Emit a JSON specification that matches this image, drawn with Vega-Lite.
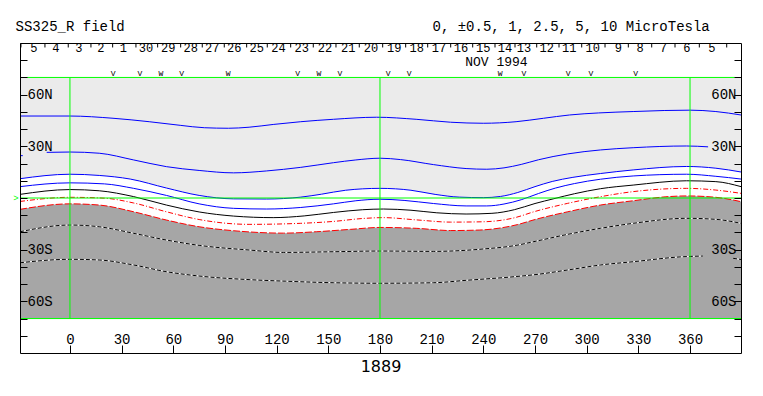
{
  "$schema": "https://vega.github.io/schema/vega-lite/v6.json",
  "width": 721,
  "height": 310,
  "autosize": {"type": "none"},
  "padding": {"left": 20, "top": 43, "right": 22, "bottom": 43},
  "background": "white",
  "config": {
    "view": {"stroke": null},
    "font": "Liberation Mono",
    "text": {"font": "Liberation Mono", "fontSize": 14, "color": "black"}
  },
  "datasets": {
    "curves": [
      {"c":"c1","s":"a","lon":-29,"lat":47.6},{"c":"c1","s":"a","lon":0,"lat":47.6},{"c":"c1","s":"a","lon":25,"lat":46.3},{"c":"c1","s":"a","lon":46,"lat":44.3},{"c":"c1","s":"a","lon":64,"lat":42.2},{"c":"c1","s":"a","lon":78,"lat":40.8},{"c":"c1","s":"a","lon":92,"lat":40.5},{"c":"c1","s":"a","lon":104,"lat":41.1},{"c":"c1","s":"a","lon":118,"lat":42.7},{"c":"c1","s":"a","lon":134,"lat":44.3},{"c":"c1","s":"a","lon":153,"lat":45.7},{"c":"c1","s":"a","lon":178,"lat":46.9},{"c":"c1","s":"a","lon":201,"lat":45.7},{"c":"c1","s":"a","lon":221,"lat":44.0},{"c":"c1","s":"a","lon":240,"lat":43.4},{"c":"c1","s":"a","lon":259,"lat":44.3},{"c":"c1","s":"a","lon":275,"lat":46.3},{"c":"c1","s":"a","lon":290,"lat":48.2},{"c":"c1","s":"a","lon":307,"lat":49.4},{"c":"c1","s":"a","lon":327,"lat":50.2},{"c":"c1","s":"a","lon":345,"lat":50.8},{"c":"c1","s":"a","lon":360,"lat":51.0},{"c":"c1","s":"a","lon":375,"lat":50.2},{"c":"c1","s":"a","lon":389.6,"lat":48.2},
      {"c":"c2","s":"a","lon":-29,"lat":24.6},{"c":"c2","s":"a","lon":-27.4,"lat":24.6},
      {"c":"c2","s":"b","lon":-13.5,"lat":26.5},{"c":"c2","s":"b","lon":0,"lat":26.7},{"c":"c2","s":"b","lon":17,"lat":26.0},{"c":"c2","s":"b","lon":37,"lat":22.1},{"c":"c2","s":"b","lon":56,"lat":18.2},{"c":"c2","s":"b","lon":75,"lat":16.0},{"c":"c2","s":"b","lon":95,"lat":14.6},{"c":"c2","s":"b","lon":114,"lat":15.7},{"c":"c2","s":"b","lon":134,"lat":17.8},{"c":"c2","s":"b","lon":153,"lat":20.5},{"c":"c2","s":"b","lon":166,"lat":22.1},{"c":"c2","s":"b","lon":180,"lat":23.1},{"c":"c2","s":"b","lon":192,"lat":22.3},{"c":"c2","s":"b","lon":211,"lat":19.4},{"c":"c2","s":"b","lon":230,"lat":17.1},{"c":"c2","s":"b","lon":242,"lat":16.7},{"c":"c2","s":"b","lon":252,"lat":17.5},{"c":"c2","s":"b","lon":262,"lat":19.5},{"c":"c2","s":"b","lon":272,"lat":22.2},{"c":"c2","s":"b","lon":289,"lat":25.6},{"c":"c2","s":"b","lon":308,"lat":27.9},{"c":"c2","s":"b","lon":327,"lat":29.2},{"c":"c2","s":"b","lon":358,"lat":30.2},{"c":"c2","s":"b","lon":370.5,"lat":29.7},
      {"c":"c3","s":"a","lon":-29,"lat":11.2},{"c":"c3","s":"a","lon":0,"lat":13.8},{"c":"c3","s":"a","lon":17,"lat":13.1},{"c":"c3","s":"a","lon":35,"lat":11.0},{"c":"c3","s":"a","lon":56,"lat":5.8},{"c":"c3","s":"a","lon":75,"lat":1.5},{"c":"c3","s":"a","lon":95,"lat":-0.5},{"c":"c3","s":"a","lon":114,"lat":-0.6},{"c":"c3","s":"a","lon":134,"lat":0.5},{"c":"c3","s":"a","lon":146,"lat":2.2},{"c":"c3","s":"a","lon":160,"lat":4.5},{"c":"c3","s":"a","lon":180,"lat":5.6},{"c":"c3","s":"a","lon":198,"lat":4.5},{"c":"c3","s":"a","lon":212,"lat":2.1},{"c":"c3","s":"a","lon":226,"lat":0.5},{"c":"c3","s":"a","lon":240,"lat":0.2},{"c":"c3","s":"a","lon":250,"lat":0.9},{"c":"c3","s":"a","lon":260,"lat":3.2},{"c":"c3","s":"a","lon":270,"lat":6.6},{"c":"c3","s":"a","lon":280,"lat":9.6},{"c":"c3","s":"a","lon":292,"lat":12.0},{"c":"c3","s":"a","lon":308,"lat":14.2},{"c":"c3","s":"a","lon":327,"lat":16.3},{"c":"c3","s":"a","lon":358,"lat":18.3},{"c":"c3","s":"a","lon":375,"lat":17.3},{"c":"c3","s":"a","lon":389.6,"lat":15.1},
      {"c":"c4","s":"a","lon":-29,"lat":6.6},{"c":"c4","s":"a","lon":0,"lat":8.8},{"c":"c4","s":"a","lon":20,"lat":8.2},{"c":"c4","s":"a","lon":37,"lat":5.6},{"c":"c4","s":"a","lon":56,"lat":1.5},{"c":"c4","s":"a","lon":75,"lat":-3.4},{"c":"c4","s":"a","lon":95,"lat":-6.0},{"c":"c4","s":"a","lon":114,"lat":-6.4},{"c":"c4","s":"a","lon":134,"lat":-5.5},{"c":"c4","s":"a","lon":153,"lat":-3.4},{"c":"c4","s":"a","lon":166,"lat":-1.6},{"c":"c4","s":"a","lon":180,"lat":-0.7},{"c":"c4","s":"a","lon":194,"lat":-1.4},{"c":"c4","s":"a","lon":211,"lat":-3.2},{"c":"c4","s":"a","lon":230,"lat":-4.6},{"c":"c4","s":"a","lon":242,"lat":-4.6},{"c":"c4","s":"a","lon":252,"lat":-3.5},{"c":"c4","s":"a","lon":262,"lat":-1.0},{"c":"c4","s":"a","lon":272,"lat":2.6},{"c":"c4","s":"a","lon":282,"lat":5.8},{"c":"c4","s":"a","lon":293,"lat":8.4},{"c":"c4","s":"a","lon":308,"lat":10.9},{"c":"c4","s":"a","lon":327,"lat":12.8},{"c":"c4","s":"a","lon":358,"lat":13.8},{"c":"c4","s":"a","lon":375,"lat":12.6},{"c":"c4","s":"a","lon":389.6,"lat":11.0},
      {"c":"c5","s":"a","lon":-29,"lat":2.1},{"c":"c5","s":"a","lon":0,"lat":4.9},{"c":"c5","s":"a","lon":17,"lat":4.2},{"c":"c5","s":"a","lon":37,"lat":0.8},{"c":"c5","s":"a","lon":56,"lat":-4.1},{"c":"c5","s":"a","lon":75,"lat":-8.1},{"c":"c5","s":"a","lon":95,"lat":-10.5},{"c":"c5","s":"a","lon":118,"lat":-11.4},{"c":"c5","s":"a","lon":136,"lat":-10.4},{"c":"c5","s":"a","lon":153,"lat":-8.4},{"c":"c5","s":"a","lon":170,"lat":-6.8},{"c":"c5","s":"a","lon":182,"lat":-6.4},{"c":"c5","s":"a","lon":198,"lat":-7.1},{"c":"c5","s":"a","lon":213,"lat":-8.6},{"c":"c5","s":"a","lon":230,"lat":-9.3},{"c":"c5","s":"a","lon":245,"lat":-8.9},{"c":"c5","s":"a","lon":258,"lat":-6.8},{"c":"c5","s":"a","lon":270,"lat":-3.2},{"c":"c5","s":"a","lon":281,"lat":-0.4},{"c":"c5","s":"a","lon":293,"lat":2.5},{"c":"c5","s":"a","lon":308,"lat":5.4},{"c":"c5","s":"a","lon":327,"lat":7.5},{"c":"c5","s":"a","lon":358,"lat":10.0},{"c":"c5","s":"a","lon":375,"lat":9.5},{"c":"c5","s":"a","lon":389.6,"lat":6.6},
      {"c":"c6","s":"a","lon":-29,"lat":-2.0},{"c":"c6","s":"a","lon":0,"lat":0.4},{"c":"c6","s":"a","lon":20,"lat":-0.1},{"c":"c6","s":"a","lon":37,"lat":-2.9},{"c":"c6","s":"a","lon":56,"lat":-8.0},{"c":"c6","s":"a","lon":75,"lat":-12.5},{"c":"c6","s":"a","lon":104,"lat":-15.3},{"c":"c6","s":"a","lon":134,"lat":-14.7},{"c":"c6","s":"a","lon":153,"lat":-13.6},{"c":"c6","s":"a","lon":170,"lat":-11.9},{"c":"c6","s":"a","lon":182,"lat":-11.4},{"c":"c6","s":"a","lon":201,"lat":-12.7},{"c":"c6","s":"a","lon":221,"lat":-14.0},{"c":"c6","s":"a","lon":240,"lat":-13.8},{"c":"c6","s":"a","lon":258,"lat":-11.5},{"c":"c6","s":"a","lon":270,"lat":-7.8},{"c":"c6","s":"a","lon":289,"lat":-3.1},{"c":"c6","s":"a","lon":308,"lat":0.75},{"c":"c6","s":"a","lon":327,"lat":3.7},{"c":"c6","s":"a","lon":358,"lat":5.6},{"c":"c6","s":"a","lon":375,"lat":4.6},{"c":"c6","s":"a","lon":389.6,"lat":2.7},
      {"c":"c7","s":"a","lon":-29,"lat":-6.6},{"c":"c7","s":"a","lon":0,"lat":-3.4},{"c":"c7","s":"a","lon":17,"lat":-4.1},{"c":"c7","s":"a","lon":37,"lat":-8.0},{"c":"c7","s":"a","lon":56,"lat":-12.8},{"c":"c7","s":"a","lon":75,"lat":-16.7},{"c":"c7","s":"a","lon":95,"lat":-19.0},{"c":"c7","s":"a","lon":124,"lat":-20.4},{"c":"c7","s":"a","lon":143,"lat":-19.6},{"c":"c7","s":"a","lon":163,"lat":-18.2},{"c":"c7","s":"a","lon":180,"lat":-17.1},{"c":"c7","s":"a","lon":201,"lat":-17.6},{"c":"c7","s":"a","lon":221,"lat":-18.9},{"c":"c7","s":"a","lon":238,"lat":-18.6},{"c":"c7","s":"a","lon":250,"lat":-17.4},{"c":"c7","s":"a","lon":260,"lat":-15.4},{"c":"c7","s":"a","lon":270,"lat":-12.5},{"c":"c7","s":"a","lon":289,"lat":-8.0},{"c":"c7","s":"a","lon":308,"lat":-4.1},{"c":"c7","s":"a","lon":327,"lat":-1.6},{"c":"c7","s":"a","lon":346,"lat":0.7},{"c":"c7","s":"a","lon":358,"lat":1.2},{"c":"c7","s":"a","lon":375,"lat":0.4},{"c":"c7","s":"a","lon":389.6,"lat":-2.1},
      {"c":"c8","s":"a","lon":-29,"lat":-19.6},{"c":"c8","s":"a","lon":0,"lat":-15.7},{"c":"c8","s":"a","lon":17,"lat":-16.7},{"c":"c8","s":"a","lon":37,"lat":-20.5},{"c":"c8","s":"a","lon":56,"lat":-24.4},{"c":"c8","s":"a","lon":75,"lat":-27.5},{"c":"c8","s":"a","lon":104,"lat":-30.2},{"c":"c8","s":"a","lon":124,"lat":-31.6},{"c":"c8","s":"a","lon":153,"lat":-31.2},{"c":"c8","s":"a","lon":180,"lat":-30.8},{"c":"c8","s":"a","lon":211,"lat":-31.0},{"c":"c8","s":"a","lon":240,"lat":-29.6},{"c":"c8","s":"a","lon":259,"lat":-27.5},{"c":"c8","s":"a","lon":270,"lat":-25.2},{"c":"c8","s":"a","lon":289,"lat":-21.1},{"c":"c8","s":"a","lon":308,"lat":-17.6},{"c":"c8","s":"a","lon":327,"lat":-14.7},{"c":"c8","s":"a","lon":358,"lat":-11.8},{"c":"c8","s":"a","lon":375,"lat":-12.4},{"c":"c8","s":"a","lon":389.6,"lat":-14.7},
      {"c":"c9","s":"a","lon":-29,"lat":-37.6},{"c":"c9","s":"a","lon":0,"lat":-35.6},{"c":"c9","s":"a","lon":17,"lat":-36.0},{"c":"c9","s":"a","lon":37,"lat":-38.9},{"c":"c9","s":"a","lon":56,"lat":-42.8},{"c":"c9","s":"a","lon":75,"lat":-45.3},{"c":"c9","s":"a","lon":104,"lat":-47.4},{"c":"c9","s":"a","lon":125,"lat":-48.3},{"c":"c9","s":"a","lon":153,"lat":-49.2},{"c":"c9","s":"a","lon":180,"lat":-49.5},{"c":"c9","s":"a","lon":211,"lat":-49.2},{"c":"c9","s":"a","lon":230,"lat":-47.8},{"c":"c9","s":"a","lon":259,"lat":-45.6},{"c":"c9","s":"a","lon":270,"lat":-44.5},{"c":"c9","s":"a","lon":289,"lat":-41.8},{"c":"c9","s":"a","lon":308,"lat":-38.9},{"c":"c9","s":"a","lon":327,"lat":-37.0},{"c":"c9","s":"a","lon":356,"lat":-34.1},{"c":"c9","s":"a","lon":367.5,"lat":-33.7},
      {"c":"c9","s":"b","lon":385,"lat":-35.0},{"c":"c9","s":"b","lon":389.6,"lat":-35.7}
    ],
    "upper": [
      {"lon":-29,"lat":11.2},{"lon":0,"lat":13.8},{"lon":17,"lat":13.1},{"lon":35,"lat":11.0},{"lon":56,"lat":5.8},{"lon":75,"lat":1.5},{"lon":86,"lat":0},{"lon":100,"lat":0},{"lon":115,"lat":0},{"lon":129,"lat":0},{"lon":134,"lat":0.5},{"lon":146,"lat":2.2},{"lon":160,"lat":4.5},{"lon":180,"lat":5.6},{"lon":198,"lat":4.5},{"lon":212,"lat":2.1},{"lon":226,"lat":0.5},{"lon":240,"lat":0.2},{"lon":250,"lat":0.9},{"lon":260,"lat":3.2},{"lon":270,"lat":6.6},{"lon":280,"lat":9.6},{"lon":292,"lat":12.0},{"lon":308,"lat":14.2},{"lon":327,"lat":16.3},{"lon":358,"lat":18.3},{"lon":375,"lat":17.3},{"lon":389.6,"lat":15.1}
    ],
    "rules": [
      {"lon":-25,"lon2":386,"lat":70,"lat2":70},
      {"lon":-29,"lon2":389.6,"lat":-70,"lat2":-70},
      {"lon":-29,"lon2":389.6,"lat":0,"lat2":0},
      {"lon":0,"lon2":0,"lat":-70,"lat2":70},
      {"lon":180,"lon2":180,"lat":-70,"lat2":70},
      {"lon":360,"lon2":360,"lat":-70,"lat2":70}
    ],
    "dayticks": [
      {"lon":-28.45},{"lon":-14.52},{"lon":-0.99},{"lon":12.19},{"lon":24.79},{"lon":38.32},{"lon":50.92},{"lon":64.28},{"lon":76.82},{"lon":89.6},{"lon":102.6},{"lon":114.56},{"lon":128.15},{"lon":141.27},{"lon":154.45},{"lon":167.98},{"lon":181.57},{"lon":194.92},{"lon":207.7},{"lon":221.05},{"lon":233.83},{"lon":246.78},{"lon":258.39},{"lon":270.99},{"lon":283.94},{"lon":297.12},{"lon":310.65},{"lon":324.18},{"lon":337.76},{"lon":351.29},{"lon":365.4},{"lon":381.3}
    ],
    "days": [
      {"lon":-20.9,"t":"5"},{"lon":-8.13,"t":"4"},{"lon":5.23,"t":"3"},{"lon":18.0,"t":"2"},{"lon":30.95,"t":"1"},{"lon":44.13,"t":"30"},{"lon":57.08,"t":"29"},{"lon":70.08,"t":"28"},{"lon":82.63,"t":"27"},{"lon":95.4,"t":"26"},{"lon":108.4,"t":"25"},{"lon":121.07,"t":"24"},{"lon":134.54,"t":"23"},{"lon":148.07,"t":"22"},{"lon":161.6,"t":"21"},{"lon":174.78,"t":"20"},{"lon":188.3,"t":"19"},{"lon":201.32,"t":"18"},{"lon":214.26,"t":"17"},{"lon":227.04,"t":"16"},{"lon":239.99,"t":"15"},{"lon":252.58,"t":"14"},{"lon":263.62,"t":"13"},{"lon":276.8,"t":"12"},{"lon":289.92,"t":"11"},{"lon":303.5,"t":"10"},{"lon":318.37,"t":"9"},{"lon":330.97,"t":"8"},{"lon":344.5,"t":"7"},{"lon":358.1,"t":"6"},{"lon":372.6,"t":"5"}
    ],
    "passes": [
      {"lon":25.1,"t":"V"},{"lon":40.6,"t":"V"},{"lon":52.8,"t":"W"},{"lon":64.9,"t":"V"},{"lon":91.9,"t":"W"},{"lon":132.2,"t":"V"},{"lon":144.6,"t":"W"},{"lon":156.8,"t":"V"},{"lon":184.8,"t":"V"},{"lon":197.0,"t":"V"},{"lon":249.7,"t":"W"},{"lon":263.6,"t":"V"},{"lon":289.3,"t":"V"},{"lon":302.4,"t":"V"},{"lon":328.5,"t":"V"}
    ]
  },
  "layer": [
    {
      "data": {"name": "upper"},
      "mark": {"type": "area", "color": "#ebebeb", "interpolate": "monotone"},
      "encoding": {
        "x": {"field": "lon", "type": "quantitative", "scale": {"domain": [-29, 389.6], "nice": false, "zero": false},
              "axis": {"orient": "top", "domain": true, "domainColor": "black", "domainWidth": 1, "ticks": false, "labels": false, "grid": false, "title": null, "zindex": 1}},
        "y": {"field": "lat", "type": "quantitative", "scale": {"domain": [-90, 90], "nice": false, "zero": false},
              "axis": {"orient": "right", "values": [-80,-70,-60,-50,-40,-30,-20,-10,0,10,20,30,40,50,60,70,80],
                       "tickSize": -7, "tickColor": "black", "tickWidth": 1, "domain": true, "domainColor": "black", "domainWidth": 1, "grid": false,
                       "labelExpr": "datum.value == 60 ? '60N' : datum.value == 30 ? '30N' : datum.value == -30 ? '30S' : datum.value == -60 ? '60S' : ''",
                       "labelFont": "Liberation Mono", "labelFontSize": 14, "labelColor": "black", "labelAlign": "right", "labelBaseline": "middle",
                       "labelPadding": 2, "labelOverlap": false, "labelFlush": false, "labelBound": false, "title": null, "zindex": 1}},
        "y2": {"datum": 70}
      }
    },
    {
      "data": {"name": "curves"},
      "transform": [{"filter": "datum.c == 'c7'"}],
      "mark": {"type": "area", "color": "#a6a6a6", "interpolate": "monotone"},
      "encoding": {
        "x": {"field": "lon", "type": "quantitative", "scale": {"domain": [-29, 389.6], "nice": false, "zero": false},
              "axis": {"orient": "bottom", "values": [0,30,60,90,120,150,180,210,240,270,300,330,360], "format": "d",
                       "tickSize": -8, "tickColor": "black", "tickWidth": 1, "domain": true, "domainColor": "black", "domainWidth": 1, "grid": false,
                       "labelFont": "Liberation Mono", "labelFontSize": 14, "labelColor": "black", "labelBaseline": "alphabetic", "labelPadding": -2,
                       "labelOverlap": false, "labelFlush": false, "labelBound": false,
                       "title": "1889", "titleFont": "DejaVu Sans", "titleFontSize": 16, "titleFontWeight": "normal", "titleColor": "black", "titlePadding": 5, "zindex": 1}},
        "y": {"field": "lat", "type": "quantitative", "scale": {"domain": [-90, 90], "nice": false, "zero": false},
              "axis": {"orient": "left", "values": [-80,-70,-60,-50,-40,-30,-20,-10,0,10,20,30,40,50,60,70,80],
                       "tickSize": -7, "tickColor": "black", "tickWidth": 1, "domain": true, "domainColor": "black", "domainWidth": 1, "grid": false,
                       "labelExpr": "datum.value == 60 ? '60N' : datum.value == 30 ? '30N' : datum.value == -30 ? '30S' : datum.value == -60 ? '60S' : ''",
                       "labelFont": "Liberation Mono", "labelFontSize": 14, "labelColor": "black", "labelAlign": "left", "labelBaseline": "middle",
                       "labelPadding": 0, "labelOverlap": false, "labelFlush": false, "labelBound": false, "title": null, "zindex": 1}},
        "y2": {"datum": -70}
      }
    },
    {
      "data": {"name": "curves"},
      "transform": [{"filter": "datum.c == 'c1' || datum.c == 'c2' || datum.c == 'c3' || datum.c == 'c4'"}],
      "mark": {"type": "line", "color": "#0000ff", "strokeWidth": 1, "interpolate": "monotone"},
      "encoding": {
        "x": {"field": "lon", "type": "quantitative", "axis": null},
        "y": {"field": "lat", "type": "quantitative", "axis": null},
        "detail": [{"field": "c"}, {"field": "s"}]
      }
    },
    {
      "data": {"name": "curves"},
      "transform": [{"filter": "datum.c == 'c5'"}],
      "mark": {"type": "line", "color": "#000000", "strokeWidth": 1, "interpolate": "monotone"},
      "encoding": {
        "x": {"field": "lon", "type": "quantitative", "axis": null},
        "y": {"field": "lat", "type": "quantitative", "axis": null},
        "detail": {"field": "s"}
      }
    },
    {
      "data": {"name": "curves"},
      "transform": [{"filter": "datum.c == 'c6'"}],
      "mark": {"type": "line", "color": "#ff0000", "strokeWidth": 1, "strokeDash": [5, 2, 1, 2], "interpolate": "monotone"},
      "encoding": {
        "x": {"field": "lon", "type": "quantitative", "axis": null},
        "y": {"field": "lat", "type": "quantitative", "axis": null},
        "detail": {"field": "s"}
      }
    },
    {
      "data": {"name": "curves"},
      "transform": [{"filter": "datum.c == 'c7'"}],
      "mark": {"type": "line", "color": "#ff0000", "strokeWidth": 1, "strokeDash": [7, 2], "interpolate": "monotone"},
      "encoding": {
        "x": {"field": "lon", "type": "quantitative", "axis": null},
        "y": {"field": "lat", "type": "quantitative", "axis": null},
        "detail": {"field": "s"}
      }
    },
    {
      "data": {"name": "curves"},
      "transform": [{"filter": "datum.c == 'c8' || datum.c == 'c9'"}],
      "mark": {"type": "line", "color": "#ffffff", "strokeWidth": 1, "interpolate": "monotone"},
      "encoding": {
        "x": {"field": "lon", "type": "quantitative", "axis": null},
        "y": {"field": "lat", "type": "quantitative", "axis": null},
        "detail": [{"field": "c"}, {"field": "s"}]
      }
    },
    {
      "data": {"name": "curves"},
      "transform": [{"filter": "datum.c == 'c8' || datum.c == 'c9'"}],
      "mark": {"type": "line", "color": "#000000", "strokeWidth": 1, "strokeDash": [4, 2], "interpolate": "monotone"},
      "encoding": {
        "x": {"field": "lon", "type": "quantitative", "axis": null},
        "y": {"field": "lat", "type": "quantitative", "axis": null},
        "detail": [{"field": "c"}, {"field": "s"}]
      }
    },
    {
      "data": {"name": "rules"},
      "mark": {"type": "rule", "color": "#00ff00", "strokeWidth": 1},
      "encoding": {
        "x": {"field": "lon", "type": "quantitative", "axis": null},
        "x2": {"field": "lon2"},
        "y": {"field": "lat", "type": "quantitative", "axis": null},
        "y2": {"field": "lat2"}
      }
    },
    {
      "data": {"name": "dayticks"},
      "mark": {"type": "rule", "color": "#000000", "strokeWidth": 1},
      "encoding": {
        "x": {"field": "lon", "type": "quantitative", "axis": null},
        "y": {"datum": 90, "type": "quantitative", "axis": null},
        "y2": {"datum": 87.4}
      }
    },
    {
      "data": {"name": "days"},
      "mark": {"type": "text", "fontSize": 12, "align": "center", "baseline": "alphabetic"},
      "encoding": {
        "x": {"field": "lon", "type": "quantitative", "axis": null},
        "y": {"datum": 85.0, "type": "quantitative", "axis": null},
        "text": {"field": "t"}
      }
    },
    {
      "data": {"name": "passes"},
      "mark": {"type": "text", "fontSize": 8, "align": "center", "baseline": "alphabetic"},
      "encoding": {
        "x": {"field": "lon", "type": "quantitative", "axis": null},
        "y": {"datum": 70.6, "type": "quantitative", "axis": null},
        "text": {"field": "t"}
      }
    },
    {
      "data": {"values": [{"t": "NOV 1994"}]},
      "mark": {"type": "text", "fontSize": 13, "align": "center", "baseline": "alphabetic"},
      "encoding": {
        "x": {"datum": 247.6, "type": "quantitative", "axis": null},
        "y": {"datum": 76.5, "type": "quantitative", "axis": null},
        "text": {"field": "t"}
      }
    },
    {
      "data": {"values": [{"t": "SS325_R field"}]},
      "mark": {"type": "text", "fontSize": 14, "align": "left", "baseline": "alphabetic"},
      "encoding": {
        "x": {"datum": -31.6, "type": "quantitative", "axis": null},
        "y": {"datum": 96.7, "type": "quantitative", "axis": null},
        "text": {"field": "t"}
      }
    },
    {
      "data": {"values": [{"t": "0, ±0.5, 1, 2.5, 5, 10 MicroTesla"}]},
      "mark": {"type": "text", "fontSize": 14, "align": "left", "baseline": "alphabetic"},
      "encoding": {
        "x": {"datum": 210.5, "type": "quantitative", "axis": null},
        "y": {"datum": 96.7, "type": "quantitative", "axis": null},
        "text": {"field": "t"}
      }
    },
    {
      "data": {"values": [{"t": ">"}]},
      "mark": {"type": "text", "fontSize": 9, "align": "center", "baseline": "middle", "color": "#00ff00"},
      "encoding": {
        "x": {"datum": -31.3, "type": "quantitative", "axis": null},
        "y": {"datum": 0, "type": "quantitative", "axis": null},
        "text": {"field": "t"}
      }
    }
  ],
  "resolve": {"axis": {"x": "independent", "y": "independent"}}
}
